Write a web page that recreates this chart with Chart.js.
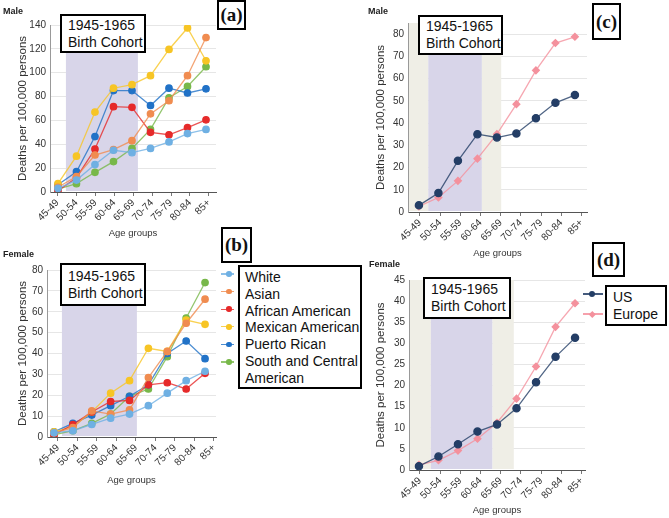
<!DOCTYPE html>
<html><head><meta charset="utf-8">
<script src="https://cdn.jsdelivr.net/npm/chart.js@4.4.1/dist/chart.umd.min.js"></script>
<style>
html,body{margin:0;padding:0;background:#fff;}
body{width:669px;height:518px;position:relative;overflow:hidden;font-family:'Liberation Sans',Arial,sans-serif;color:#111;}
.pane{position:absolute;}
.sex{position:absolute;font-weight:bold;font-size:9px;line-height:10px;color:#222;}
.cohort{position:absolute;border:2px solid #000;background:#fff;font-size:14px;line-height:17px;padding-left:6px;box-sizing:border-box;display:flex;flex-direction:column;justify-content:center;white-space:nowrap;}
.tag{position:absolute;border:2px solid #000;background:#fff;font-family:'Liberation Serif','Times New Roman',serif;font-weight:bold;font-size:19px;text-align:center;box-sizing:border-box;display:flex;align-items:center;justify-content:center;}
.legbox{position:absolute;border:2px solid #000;background:#fff;font-size:14px;line-height:16.8px;box-sizing:border-box;white-space:nowrap;}
.mk{position:absolute;height:1.4px;}
.dot{position:absolute;border-radius:50%;}
.dia{position:absolute;transform:rotate(45deg);}
</style>
</head><body>
<div class="pane" style="left:0;top:0;width:232px;height:239px"><canvas id="cA"></canvas></div>
<div class="pane" style="left:0;top:240px;width:232px;height:246px"><canvas id="cB"></canvas></div>
<div class="pane" style="left:340px;top:0;width:329px;height:259px"><canvas id="cC"></canvas></div>
<div class="pane" style="left:340px;top:260px;width:329px;height:256px"><canvas id="cD"></canvas></div>

<div class="sex" style="left:3px;top:6px">Male</div>
<div class="sex" style="left:3px;top:249px">Female</div>
<div class="sex" style="left:368px;top:6px">Male</div>
<div class="sex" style="left:369px;top:259px">Female</div>

<div class="cohort" style="left:60px;top:14px;width:86px;height:39px"><span>1945-1965</span><span>Birth Cohort</span></div>
<div class="cohort" style="left:60px;top:263px;width:86px;height:43px"><span>1945-1965</span><span>Birth Cohort</span></div>
<div class="cohort" style="left:418px;top:15px;width:85px;height:40px"><span>1945-1965</span><span>Birth Cohort</span></div>
<div class="cohort" style="left:423px;top:277px;width:88px;height:42px"><span>1945-1965</span><span>Birth Cohort</span></div>

<div class="tag" style="left:217px;top:0px;width:29px;height:30px">(a)</div>
<div class="tag" style="left:221px;top:227px;width:31px;height:36px">(b)</div>
<div class="tag" style="left:592px;top:3px;width:29px;height:37px">(c)</div>
<div class="tag" style="left:592px;top:242px;width:33px;height:35px">(d)</div>

<div id="legB"></div>
<div id="legD"></div>

<script>
// ---------- data ----------
const ageGroups = ['45-49','50-54','55-59','60-64','65-69','70-74','75-79','80-84','85+'];
const raceNames = ['White','Asian','African American','Mexican American','Puerto Rican','South and Central American'];
const raceColors = ['#6fb0e3','#f08c50','#e62a2a','#f7c525','#2172c7','#78b84a'];

// Male, by race/ethnicity (panel a)
const maleWhite    = [3, 10, 23, 35, 33, 36.5, 42, 49, 52.5];
const maleAsian    = [4, 13, 31, 35.5, 43, 65.5, 76.5, 97.5, 129.5];
const maleAfrican  = [1, 12, 36, 71.5, 71, 50, 48, 54, 60.5];
const maleMexican  = [7, 30, 67, 87, 90, 97.5, 119.5, 137.5, 110];
const malePuerto   = [6, 17, 46.5, 85, 85, 72.5, 87, 83, 86.5];
const maleSouth    = [2.5, 7, 16.5, 25.5, 36.5, 52.5, 79, 88.5, 105];

// Female, by race/ethnicity (panel b)
const femaleWhite   = [2, 3, 6, 9, 11, 15, 21, 27, 31.5];
const femaleAsian   = [2, 4.5, 12.5, 11, 13, 28.5, 41, 54.5, 66];
const femaleAfrican = [1, 6, 12, 17, 17.5, 25, 26, 23, 30.5];
const femaleMexican = [2.5, 5, 12, 21, 27, 42.5, 41, 56, 54];
const femalePuerto  = [2.5, 6.5, 10.5, 15, 19.5, 25, 40, 46, 37.5];
const femaleSouth   = [1, 3, 6.5, 11, 19.5, 23, 38.5, 57, 74];

// US vs Europe (panels c, d)
const regionNames = ['US','Europe'];
const regionColors = ['#243e66','#f4919d'];
const maleUS       = [3, 8.5, 23, 35, 33.5, 35.3, 42.2, 49.1, 52.6];
const maleEurope   = [2.5, 6.5, 14, 24, 35, 48.5, 63.7, 76, 78.8];
const femaleUS     = [0.9, 3.2, 6.1, 9.1, 10.8, 14.6, 20.8, 26.8, 31.3];
const femaleEurope = [1.2, 2.3, 4.6, 7.4, 11.2, 16.9, 24.5, 33.9, 39.5];

// ---------- helpers ----------
Chart.defaults.font.family = "'Liberation Sans', Arial, sans-serif";
Chart.defaults.color = '#333';

const shadePlugin = {
  id: 'shade',
  beforeDatasetsDraw(chart, args, opts) {
    const {ctx, chartArea: a, scales: {x}} = chart;
    (opts.bands || []).forEach(b => {
      const x1 = Math.max(x.getPixelForValue(b.from), a.left + 1);
      const x2 = Math.min(x.getPixelForValue(b.to), a.right);
      ctx.save();
      ctx.fillStyle = b.color;
      ctx.fillRect(x1, a.top, x2 - x1, a.bottom - a.top - 1);
      ctx.restore();
    });
  }
};

function hexA(hex, a) {
  const n = parseInt(hex.slice(1), 16);
  return `rgba(${(n>>16)&255},${(n>>8)&255},${n&255},${a})`;
}

function ds(label, values, color, style, r) {
  return {
    label, data: values.map((v, i) => ({x: i, y: v})),
    borderColor: hexA(color, 0.8), backgroundColor: color,
    pointBackgroundColor: color, pointBorderColor: color,
    borderWidth: 1.3, pointRadius: r, pointHoverRadius: r,
    pointStyle: style, tension: 0, fill: false
  };
}

function build(id, datasets, p) {
  new Chart(document.getElementById(id), {
    type: 'line',
    data: {datasets},
    plugins: [shadePlugin],
    options: {
      responsive: true, maintainAspectRatio: false, animation: false,
      devicePixelRatio: 1,
      layout: {padding: {left: 0, top: p.padTop, right: p.padRight, bottom: 0}},
      plugins: {legend: {display: false}, tooltip: {enabled: false}, shade: {bands: p.bands}},
      scales: {
        x: {type: 'linear', display: false, min: p.xMin, max: p.xMax, bounds: 'data'},
        xl: {
          type: 'linear', position: 'bottom', min: p.lMin, max: p.lMax, bounds: 'data',
          afterBuildTicks: s => { s.ticks = ageGroups.map((_, i) => ({value: i})); },
          afterFit: s => { s.height = p.xAxisH; },
          ticks: {autoSkip: false, minRotation: 45, maxRotation: 45, padding: 1,
                  font: {size: 10}, color: '#333', callback: v => ageGroups[v]},
          grid: {drawOnChartArea: false, drawTicks: true, tickLength: 4, color: '#777'},
          border: {display: true, color: '#555'},
          title: {display: true, text: 'Age groups', font: {size: 9.5}, color: '#333', padding: {top: 0, bottom: 0}}
        },
        y: {
          type: 'linear', min: 0, max: p.yMax, bounds: 'data',
          afterBuildTicks: s => {
            const out = [];
            for (let v = 0; v <= p.yMax + 1e-9; v += p.yStep) out.push({value: v});
            s.ticks = out;
          },
          afterFit: s => { s.width = p.yAxisW; },
          ticks: {stepSize: p.yStep, padding: 4, font: {size: 10}, color: '#333'},
          grid: {color: '#e6e6e6', drawTicks: false},
          border: {display: true, color: '#999'},
          title: {display: true, text: 'Deaths per 100,000 persons', font: {size: 11.5}, color: '#333',
                  padding: {top: p.yTitlePad, bottom: 0}}
        }
      }
    }
  });
}

const PURPLE = '#d8d5e9', BEIGE = '#efeee6';

const maleRace = [maleWhite, maleAsian, maleAfrican, maleMexican, malePuerto, maleSouth];
const femaleRace = [femaleWhite, femaleAsian, femaleAfrican, femaleMexican, femalePuerto, femaleSouth];

build('cA', maleRace.map((v, i) => ds(raceNames[i], v, raceColors[i], 'circle', 3.2)), {
  padTop: 25, padRight: 16, yAxisW: 50, xAxisH: 47, yTitlePad: 15.6,
  yMax: 140, yStep: 20, xMin: -0.43, xMax: 8.54, lMin: -0.4, lMax: 8.38,
  bands: [{from: 0.43, to: 4.32, color: PURPLE}]
});
build('cB', femaleRace.map((v, i) => ds(raceNames[i], v, raceColors[i], 'circle', 3.2)), {
  padTop: 30, padRight: 16, yAxisW: 47, xAxisH: 49, yTitlePad: 16,
  yMax: 80, yStep: 10, xMin: -0.37, xMax: 8.58, lMin: -0.56, lMax: 8.11,
  bands: [{from: 0.42, to: 4.39, color: PURPLE}]
});
build('cC', [ds('US', maleUS, regionColors[0], 'circle', 3.6), ds('Europe', maleEurope, regionColors[1], 'rectRot', 3.4)], {
  padTop: 23, padRight: 82, yAxisW: 68, xAxisH: 47, yTitlePad: 34,
  yMax: 85, yStep: 10, xMin: -0.56, xMax: 8.62, lMin: -0.59, lMax: 8.27,
  bands: [{from: -0.6, to: 0.48, color: BEIGE}, {from: 0.48, to: 3.23, color: PURPLE}, {from: 3.23, to: 4.22, color: BEIGE}]
});
build('cD', [ds('US', femaleUS, regionColors[0], 'circle', 3.6), ds('Europe', femaleEurope, regionColors[1], 'rectRot', 3.4)], {
  padTop: 20, padRight: 84, yAxisW: 69, xAxisH: 46, yTitlePad: 34,
  yMax: 45, yStep: 5, xMin: -0.51, xMax: 8.51, lMin: -0.54, lMax: 8.17,
  bands: [{from: -0.6, to: 0.61, color: BEIGE}, {from: 0.61, to: 3.77, color: PURPLE}, {from: 3.77, to: 4.86, color: BEIGE}]
});

// ---------- legends (HTML) ----------
(function () {
  const legB = document.getElementById('legB');
  let html = '';
  raceColors.forEach((c, i) => {
    const y = 274 + 17.6 * i;
    html += `<div class="mk" style="left:221px;top:${y - 0.7}px;width:13px;background:${hexA(c, 0.8)}"></div>`;
    html += `<div class="dot" style="left:226px;top:${y - 2.8}px;width:5.6px;height:5.6px;background:${c}"></div>`;
  });
  const names = raceNames.slice(0, 5).concat(['South and Central', 'American']);
  html += `<div class="legbox" style="left:238px;top:265px;width:124px;height:124px;padding:2px 0 0 5px">${names.join('<br>')}</div>`;
  legB.innerHTML = html;

  const legD = document.getElementById('legD');
  let h2 = '';
  const ys = [294, 314];
  regionColors.forEach((c, i) => {
    const y = ys[i];
    h2 += `<div class="mk" style="left:583px;top:${y - 0.7}px;width:20px;background:${hexA(c, 0.85)}"></div>`;
    if (i === 0) h2 += `<div class="dot" style="left:588.5px;top:${y - 3.3}px;width:6.6px;height:6.6px;background:${c}"></div>`;
    else h2 += `<div class="dia" style="left:589.5px;top:${y - 2.3}px;width:4.6px;height:4.6px;background:${c}"></div>`;
  });
  h2 += `<div class="legbox" style="left:605px;top:285px;width:62px;height:41px;padding:2px 0 0 6px;line-height:17px">${regionNames.join('<br>')}</div>`;
  legD.innerHTML = h2;
})();
</script>
</body></html>
